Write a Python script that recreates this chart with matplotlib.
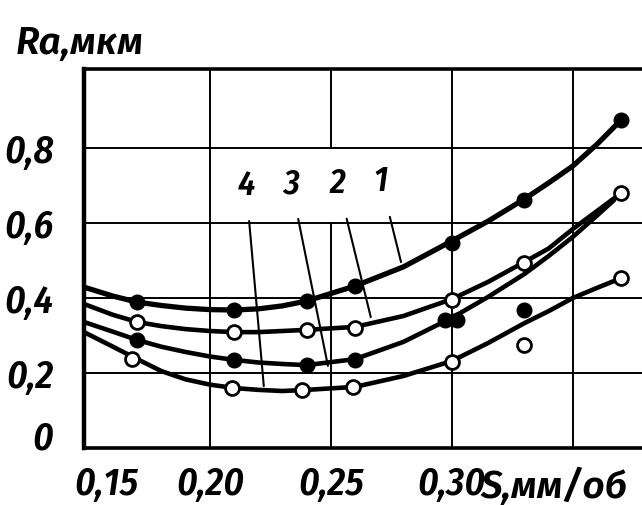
import matplotlib
matplotlib.use("Agg")
import matplotlib.pyplot as plt
import matplotlib.transforms as mtransforms
from matplotlib import font_manager

# ---------------- data ----------------
# curve lines (smooth hand-drawn curves, read at several feeds)
curve_x = [0.148, 0.16, 0.17, 0.18, 0.19, 0.20, 0.21, 0.22, 0.23, 0.24, 0.26, 0.28, 0.30, 0.315, 0.33, 0.34, 0.35, 0.36, 0.37]
curve1_y = [0.429, 0.405, 0.389, 0.380, 0.373, 0.369, 0.368, 0.371, 0.379, 0.392, 0.432, 0.483, 0.552, 0.605, 0.664, 0.707, 0.752, 0.810, 0.875]
curve2_y = [0.384, 0.355, 0.336, 0.325, 0.317, 0.312, 0.309, 0.309, 0.312, 0.315, 0.323, 0.352, 0.397, 0.443, 0.496, 0.532, 0.584, 0.632, 0.680]
curve3_x = [0.148, 0.16, 0.17, 0.18, 0.19, 0.20, 0.21, 0.22, 0.23, 0.24, 0.26, 0.28, 0.30, 0.315, 0.33, 0.34, 0.35, 0.36, 0.367]
curve3_y = [0.336, 0.310, 0.288, 0.270, 0.256, 0.244, 0.235, 0.228, 0.224, 0.221, 0.237, 0.283, 0.347, 0.403, 0.464, 0.512, 0.563, 0.620, 0.661]
curve4_y = [0.309, 0.270, 0.237, 0.205, 0.183, 0.169, 0.160, 0.155, 0.152, 0.155, 0.163, 0.192, 0.232, 0.280, 0.333, 0.365, 0.400, 0.427, 0.453]

# measured points
pts1_x = [0.17, 0.21, 0.24, 0.26, 0.30, 0.33, 0.37]
pts1_y = [0.389, 0.368, 0.392, 0.432, 0.547, 0.661, 0.875]
pts2_x = [0.17, 0.21, 0.24, 0.26, 0.30, 0.33, 0.37]
pts2_y = [0.336, 0.309, 0.315, 0.320, 0.395, 0.493, 0.680]
pts3_x = [0.17, 0.21, 0.24, 0.26, 0.297, 0.302, 0.33]
pts3_y = [0.288, 0.235, 0.221, 0.235, 0.341, 0.341, 0.368]
pts4_x = [0.168, 0.209, 0.238, 0.259, 0.30, 0.33, 0.37]
pts4_y = [0.237, 0.160, 0.155, 0.163, 0.229, 0.275, 0.453]

curve_labels = ["1", "2", "3", "4"]
x_ticks = [0.15, 0.20, 0.25, 0.30]
x_tick_labels = ["0,15", "0,20", "0,25", "0,30"]
y_ticks = [0.0, 0.2, 0.4, 0.6, 0.8]
y_tick_labels = ["0", "0,2", "0,4", "0,6", "0,8"]
grid_x = [0.20, 0.25, 0.30, 0.35]
grid_y = [0.2, 0.4, 0.6, 0.8]

# pick installed italic fonts with Cyrillic
available = {}
for f in font_manager.fontManager.ttflist:
    available.setdefault(f.name, set()).add(f.style)


def pick(cands):
    return next(c for c in cands if c in available)


narrow = pick(["Fira Sans Condensed", "Roboto Condensed", "IBM Plex Sans Condensed",
               "Encode Sans Condensed", "PT Sans Narrow", "DejaVu Sans"])
wide = pick(["Fira Sans", "Noto Sans", "DejaVu Sans"])
plt.rcParams["font.family"] = [narrow, "DejaVu Sans"]


def fp(size, fam=narrow, weight=600):
    style = "italic" if "italic" in available.get(fam, set()) else "oblique"
    return font_manager.FontProperties(family=[fam, "DejaVu Sans"], style=style, weight=weight, size=size)


fig = plt.figure(figsize=(6.42, 5.06), dpi=100)
ax = fig.add_axes([84 / 642, 1 - 449 / 506, 1 - 84 / 642, 379 / 506])
ax.set_xlim(0.148, 0.148 + 558 / 2420)
ax.set_ylim(0, 379 / 375)

# grid
for gx in grid_x:
    if gx == 0.25:
        ax.plot([gx, gx], [0, 0.6], color="black", lw=1.4, zorder=1)
        ax.plot([gx, gx], [0.8, 1.1], color="black", lw=1.4, zorder=1)
    else:
        ax.axvline(gx, color="black", lw=1.4, zorder=1)
for gy in grid_y:
    ax.axhline(gy, color="black", lw=1.4, zorder=1)

# curves
ax.plot(curve_x, curve1_y, color="black", lw=3.8, solid_capstyle="round", solid_joinstyle="round", zorder=3)
ax.plot(curve_x, curve2_y, color="black", lw=3.3, solid_capstyle="round", solid_joinstyle="round", zorder=3)
ax.plot(curve3_x, curve3_y, color="black", lw=3.3, solid_capstyle="round", solid_joinstyle="round", zorder=3)
ax.plot(curve_x, curve4_y, color="black", lw=3.3, solid_capstyle="round", solid_joinstyle="round", zorder=3)

ax.plot(pts1_x, pts1_y, "o", ms=10.5, mfc="black", mec="black", zorder=4)
ax.plot(pts2_x, pts2_y, "o", ms=10, mfc="white", mec="black", mew=2.0, zorder=4)
ax.plot(pts3_x, pts3_y, "o", ms=10.5, mfc="black", mec="black", zorder=4)
ax.plot(pts4_x, pts4_y, "o", ms=10, mfc="white", mec="black", mew=2.0, zorder=4)

# curve number labels with leader lines
label_text_pos = [(0.2707, 0.712), (0.2529, 0.707), (0.2335, 0.707), (0.2149, 0.702)]
label_point_pos = [(0.279, 0.496), (0.2665, 0.349), (0.2488, 0.219), (0.2223, 0.165)]
for lab, tp, pp in zip(curve_labels, label_text_pos, label_point_pos):
    ax.annotate(lab, xy=pp, xytext=tp, ha="center", va="center",
                fontproperties=fp(25),
                arrowprops=dict(arrowstyle="-", color="black", lw=1.5,
                                shrinkA=12, shrinkB=0),
                zorder=5)

# spines
for side in ["left", "bottom", "top"]:
    ax.spines[side].set_linewidth(2.6)
ax.spines["left"].set_linewidth(3.2)
ax.spines["right"].set_visible(False)

ax.set_xticks(x_ticks, x_tick_labels)
ax.set_yticks(y_ticks, y_tick_labels)
for t in ax.get_xticklabels() + ax.get_yticklabels():
    t.set_fontproperties(fp(28))
ax.tick_params(length=0)
ax.tick_params(axis="x", pad=12)
ax.tick_params(axis="y", pad=22)
xl = ax.get_xticklabels()
xl[0].set_transform(xl[0].get_transform() + mtransforms.ScaledTranslation(18 / 100, 0, fig.dpi_scale_trans))
yl = ax.get_yticklabels()
yl[0].set_transform(yl[0].get_transform() + mtransforms.ScaledTranslation(0, 14 / 100, fig.dpi_scale_trans))

fig.text(480 / 642, 1 - 498 / 506, "S,мм/об", fontproperties=fp(28, wide, 600), ha="left", va="baseline")
fig.text(16 / 642, 1 - 54 / 506, "Ra,мкм", fontproperties=fp(28, wide, 600), ha="left", va="baseline")

fig.savefig("out.png", dpi=100)
